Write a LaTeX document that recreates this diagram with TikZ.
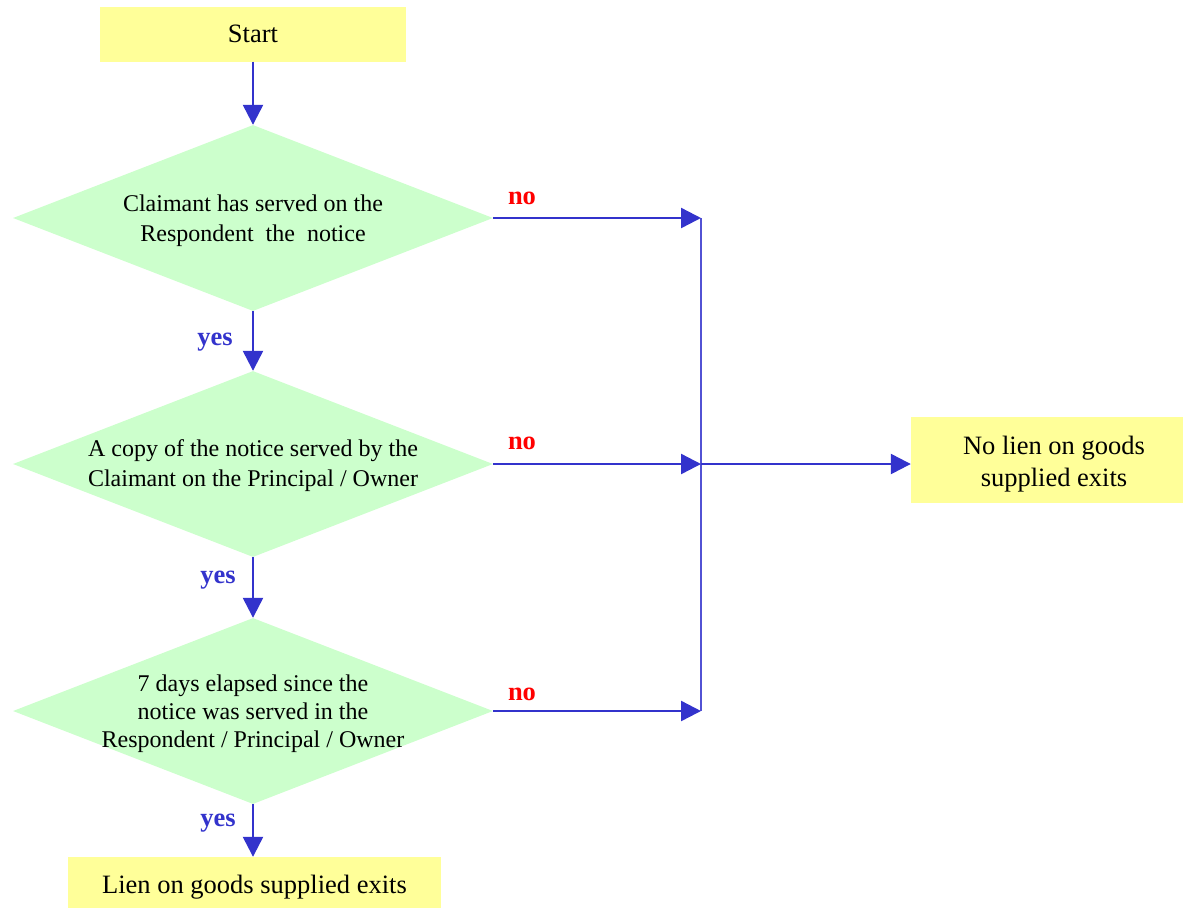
\documentclass[tikz,border=0pt]{standalone}
\usepackage{fontspec}
\setmainfont{Liberation Serif}
\usetikzlibrary{shapes.geometric,arrows.meta}
\definecolor{flowblue}{HTML}{3333CC}
\definecolor{boxyellow}{HTML}{FFFF99}
\definecolor{decgreen}{HTML}{CCFFCC}
\definecolor{nored}{HTML}{FF0000}
\begin{document}
\begin{tikzpicture}[x=1pt,y=-1pt,
  font=\fontsize{26.5}{30}\selectfont,
  termbox/.style={rectangle,fill=boxyellow,inner sep=0pt,align=center},
  decision/.style={diamond,fill=decgreen,inner sep=0pt,
    minimum width=480pt,minimum height=186pt},
  dectext/.style={align=center,inner sep=0pt,font=\fontsize{24}{30}\selectfont},
  flow/.style={draw=flowblue,line width=2.4pt,
    -{Triangle[length=20pt,width=20pt]}},
  trunk/.style={draw=flowblue!85!white,line width=2pt},
  nolabel/.style={text=nored,font=\fontsize{26.5}{30}\selectfont\bfseries},
  yeslabel/.style={text=flowblue,font=\fontsize{26.5}{30}\selectfont\bfseries}]
\useasboundingbox (0,0) rectangle (1183,908);

% terminal boxes
\node[termbox,minimum width=306pt,minimum height=55pt] (start) at (253,34) {Start};
\node[termbox,minimum width=373pt,minimum height=51pt] (lien) at (254.5,882.5)
  {\rule{0pt}{28pt}Lien on goods supplied exits};
\node[termbox,minimum width=272pt,minimum height=86pt,
  font=\fontsize{26.5}{32}\selectfont] (nolien) at (1047,460)
  {\rule{0pt}{26pt}\hspace*{14pt}No lien on goods\\\hspace*{14pt}supplied exits};

% decisions
\node[decision] (d1) at (253,218) {};
\node[dectext] (t1) at (253,221) {Claimant has served on the\\Respondent\ \ the\ \ notice};
\node[decision] (d2) at (253,464) {};
\node[dectext] (t2) at (253,466) {A copy of the notice served by the\\Claimant on the Principal / Owner};
\node[decision] (d3) at (253,711) {};
\node[dectext,font=\fontsize{24}{28}\selectfont] (t3) at (253,714)
  {7 days elapsed since the\\notice was served in the\\Respondent / Principal / Owner};

% junction points on the "no" trunk
\coordinate (j1) at (701,218);
\coordinate (j2) at (701,464);
\coordinate (j3) at (701,711);

% "yes" path
\draw[flow] (start.south) -- (d1.north);
\draw[flow] (d1.south) -- (d2.north);
\draw[flow] (d2.south) -- (d3.north);
\draw[flow] (d3.south) -- (d3.south |- lien.north);

% "no" path
\draw[trunk] (j1) -- (j3);
\draw[flow] (d1.east) -- (j1);
\draw[flow] (d2.east) -- (j2);
\draw[flow] (d3.east) -- (j3);
\draw[flow] (j2) -- (j2 -| nolien.west);

% branch labels
\node[nolabel] (n1) at (522,198) {no};
\node[nolabel] (n2) at (522,443) {no};
\node[nolabel] (n3) at (522,694) {no};
\node[yeslabel] (y1) at (215,342) {yes};
\node[yeslabel] (y2) at (218,580) {yes};
\node[yeslabel] (y3) at (218,823) {yes};
\end{tikzpicture}
\end{document}
